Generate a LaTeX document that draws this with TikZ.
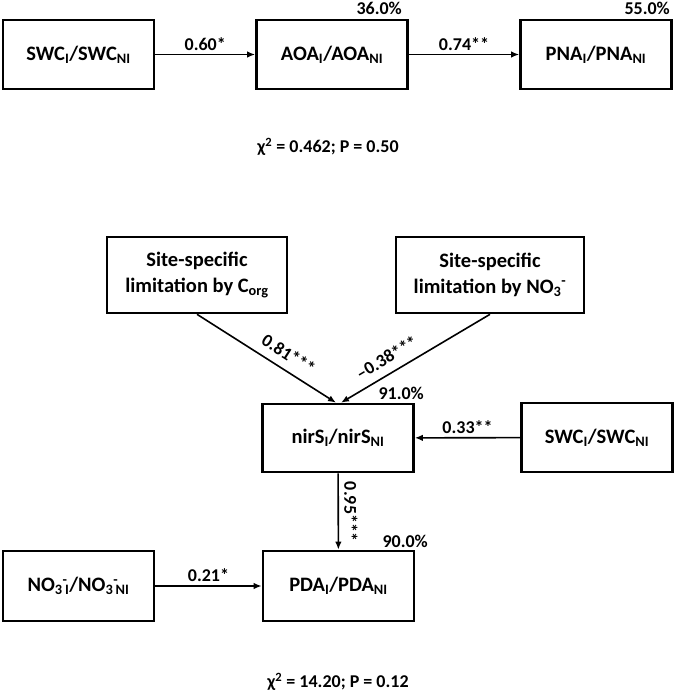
\documentclass[tikz,border=0pt]{standalone}
\usepackage{fontspec}
\setmainfont{Carlito}
\usetikzlibrary{arrows.meta}
\newcommand{\nothree}{NO\textsubscript{3}}

\begin{document}
\begin{tikzpicture}[x=1pt,y=-1pt,
  every node/.style={font=\bfseries\fontsize{18}{25}\selectfont},
  box/.style={draw,line width=2.6pt,minimum width=151pt,minimum height=69pt,inner sep=0pt,align=center,
    font=\bfseries\fontsize{20.5}{25.5}\selectfont},
  link/.style={line width=1.6pt,-{Latex[length=8pt,width=6.5pt]}},
  rsq/.style={anchor=base east,inner sep=0pt}]
\useasboundingbox (0,0) rectangle (675,693);

\node[box] (swc) at (78.5,54.5) {SWC\textsubscript{I}/SWC\textsubscript{NI}};
\node[box] (aoa) at (332,54.5) {AOA\textsubscript{I}/AOA\textsubscript{NI}};
\node[box] (pna) at (596,54.5) {PNA\textsubscript{I}/PNA\textsubscript{NI}};
\node[rsq] (raoa) at (402,15) {36.0\%};
\node[rsq] (rpna) at (670,15) {55.0\%};
\draw[link] (swc) -- node[above] {0.60*} (aoa);
\draw[link] (aoa) -- node[above] {0.74**} (pna);
\node (fita) at (328,147) {χ\textsuperscript{2} = 0.462; P = 0.50};

\node[box,minimum width=180pt,minimum height=76pt] (sitec) at (197,275) {Site-specific\\limitation by C\textsubscript{org}};
\node[box,minimum width=188pt,minimum height=76pt] (siten) at (490,275) {Site-specific\\limitation by \nothree\textsuperscript{-}};
\node[box,minimum height=68pt] (nirs) at (338,438) {nirS\textsubscript{I}/nirS\textsubscript{NI}};
\node[box] (swcb) at (597,437.5) {SWC\textsubscript{I}/SWC\textsubscript{NI}};
\node[box,minimum height=70pt] (no3) at (78.5,586) {\nothree\rlap{\textsuperscript{-}}\textsubscript{\,I}/\nothree\rlap{\textsuperscript{-}}\textsubscript{\,NI}};
\node[box,minimum height=70pt] (pda) at (338.5,586) {PDA\textsubscript{I}/PDA\textsubscript{NI}};
\node[rsq] (rnirs) at (424,399) {91.0\%};
\node[rsq] (rpda) at (428,547) {90.0\%};
\draw[link] (sitec.south) -- node[sloped,above=5pt,pos=0.6] {0.81***} ([xshift=-2pt]nirs.north);
\draw[link] (siten.south) -- node[sloped,above=5pt,pos=0.64] {--0.38***} ([xshift=3pt]nirs.north);
\draw[link] (swcb) -- node[above] {0.33**} (nirs);
\draw[link] (nirs) -- node[sloped,above=2pt] {0.95***} (pda);
\draw[link] (no3) -- node[above] {0.21*} (pda);
\node (fitb) at (338,682) {χ\textsuperscript{2} = 14.20; P = 0.12};
\end{tikzpicture}
\end{document}
